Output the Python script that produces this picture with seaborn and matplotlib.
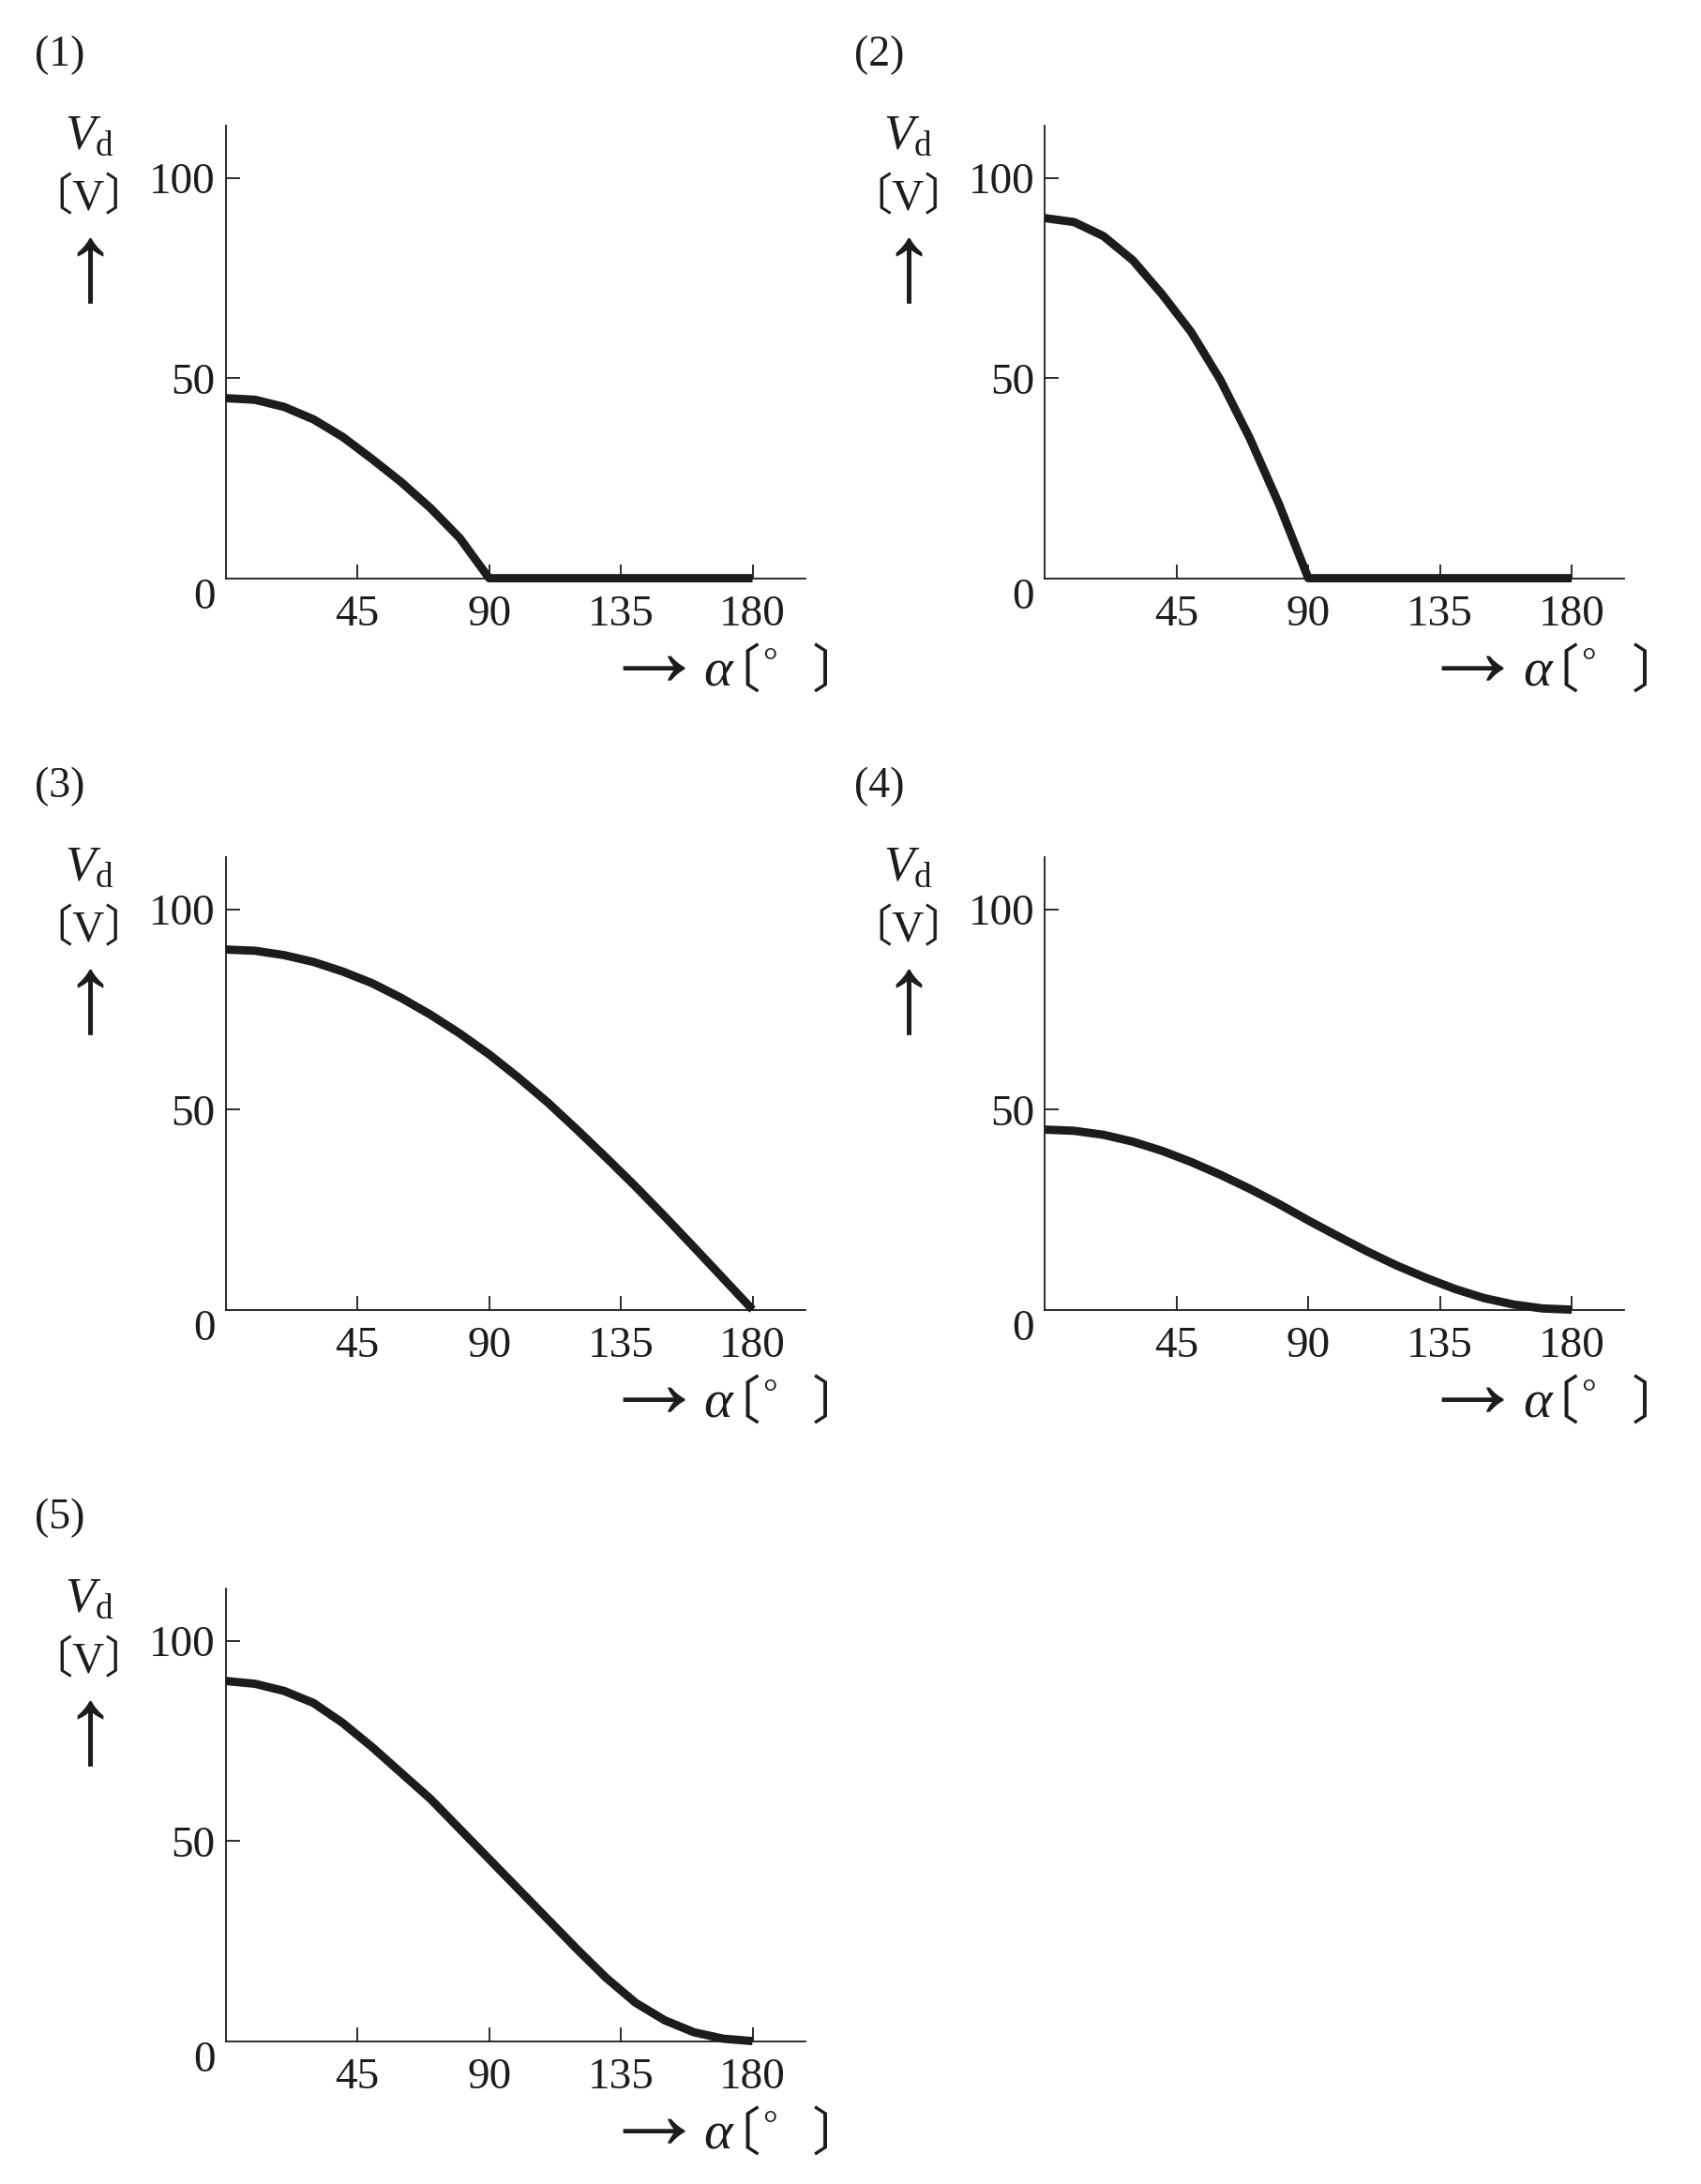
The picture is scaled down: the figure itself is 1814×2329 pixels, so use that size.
import numpy as np
import pandas as pd
import seaborn as sns
import matplotlib.pyplot as plt

# values: firing angle alpha [deg] -> Vd [V]
alpha_1 = [0, 10, 20, 30, 40, 50, 60, 70, 80, 90, 180]
vd_1 = [45, 44.6, 42.8, 39.7, 35.3, 29.8, 24, 17.5, 10, 0, 0]

alpha_2 = [0, 10, 20, 30, 40, 50, 60, 70, 80, 90, 180]
vd_2 = [90, 89, 85.5, 79.5, 71, 61.5, 49.5, 35, 18.5, 0, 0]

alpha_3 = [0, 10, 20, 30, 40, 50, 60, 70, 80, 90,
           100, 110, 120, 130, 140, 150, 160, 170, 180]
vd_3 = [90, 89.7, 88.6, 86.9, 84.5, 81.6, 77.9, 73.7, 69, 63.8,
        58, 51.8, 45, 38, 30.8, 23.3, 15.6, 7.8, 0]

alpha_4 = [0, 10, 20, 30, 40, 50, 60, 70, 80, 90,
           100, 110, 120, 130, 140, 150, 160, 170, 180]
vd_4 = [45, 44.7, 43.7, 42, 39.7, 36.9, 33.7, 30.2, 26.4, 22.3,
        18.4, 14.6, 11.1, 8, 5.2, 2.9, 1.3, 0.3, 0]

alpha_5 = [0, 10, 20, 30, 40, 50, 60, 70, 80, 90,
           100, 110, 120, 130, 140, 150, 160, 170, 180]
vd_5 = [90, 89.3, 87.5, 84.5, 79.5, 73.5, 67, 60.5, 53, 45.5,
        38, 30.5, 23, 15.8, 9.6, 5.2, 2.2, 0.6, 0]

panel_names = ["(1)", "(2)", "(3)", "(4)", "(5)"]
xticks = [45, 90, 135, 180]
yticks = [0, 50, 100]

curves = [(alpha_1, vd_1), (alpha_2, vd_2), (alpha_3, vd_3),
          (alpha_4, vd_4), (alpha_5, vd_5)]

sns.set_theme(style="ticks")
plt.rcParams["font.family"] = ["Liberation Serif", "Noto Sans CJK JP"]
plt.rcParams["mathtext.fontset"] = "custom"
plt.rcParams["mathtext.rm"] = "Liberation Serif"
plt.rcParams["mathtext.it"] = "Liberation Serif:italic"

W, H = 1814, 2329
fig = plt.figure(figsize=(W / 100, H / 100), dpi=100)
fig.patch.set_facecolor("white")

lefts = [240.7, 1114.3]
bottoms = [616.6, 1396.6, 2176.6]
aw, ah = 618, 483
ink = "#1c1c1c"


def txt(x, y, s, **kw):
    kw.setdefault("ha", "center")
    kw.setdefault("va", "center")
    kw.setdefault("color", ink)
    fig.text(x / W, 1 - y / H, s, **kw)


for i, (xs, ys) in enumerate(curves):
    l = lefts[i % 2]
    b = bottoms[i // 2]
    ax = fig.add_axes([l / W, 1 - b / H, aw / W, ah / H])
    df = pd.DataFrame({"alpha": xs, "vd": ys})
    sns.lineplot(data=df, x="alpha", y="vd", ax=ax, color=ink, lw=6.4,
                 sort=False, estimator=None, clip_on=False,
                 solid_capstyle="butt", solid_joinstyle="round")
    ax.set_xlim(0, 198)
    ax.set_ylim(0, 113.2)
    ax.set_xticks(xticks)
    ax.set_yticks(yticks)
    ax.set_xlabel("")
    ax.set_ylabel("")
    for side in ["top", "right"]:
        ax.spines[side].set_visible(False)
    for side in ["left", "bottom"]:
        ax.spines[side].set_linewidth(1.3)
        ax.spines[side].set_color(ink)
    ax.tick_params(axis="both", direction="in", length=10.5, width=1.3,
                   color=ink, labelsize=34, labelcolor=ink)
    ax.tick_params(axis="x", pad=13)
    ax.tick_params(axis="y", pad=8)
    ax.yaxis.get_major_ticks()[0].tick1line.set_visible(False)
    ax.yaxis.get_major_ticks()[0].label1.set_verticalalignment("top")
    ax.set_facecolor("white")

    top = b - ah
    # panel number
    txt(l - 177, top - 75, panel_names[i], fontsize=33)
    # y-axis label: Vd [V] with up arrow
    txt(l - 146, top + 12, r"$V_{\mathrm{d}}$", fontsize=38)
    txt(l - 146, top + 78, "〔V〕", fontsize=34)
    txt(l - 145, top + 157, "↑", fontsize=85)
    # x-axis label: -> alpha [deg]
    txt(l + 456, b + 88, "→", fontsize=80)
    txt(l + 525, b + 101, "α", fontsize=42, style="italic")
    txt(l + 542, b + 101, "〔", fontsize=40, family=["Noto Sans CJK JP"])
    txt(l + 580, b + 92, "°", fontsize=28)
    txt(l + 653, b + 101, "〕", fontsize=40, family=["Noto Sans CJK JP"])

fig.savefig("out.png", dpi=100, facecolor="white")
